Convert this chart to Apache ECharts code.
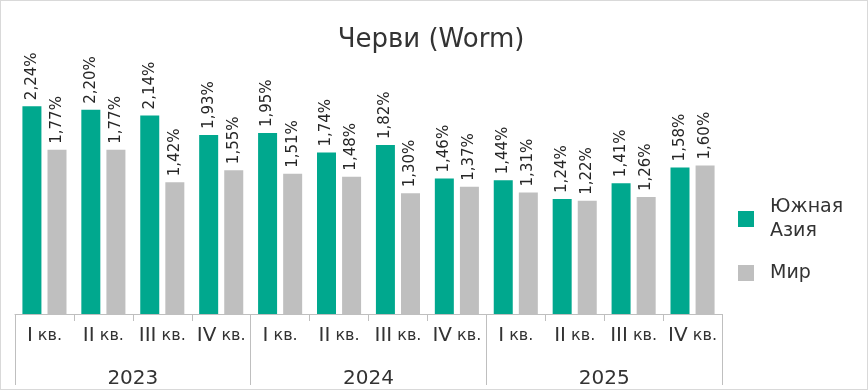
<!DOCTYPE html>
<html>
<head>
<meta charset="utf-8">
<script src="https://cdn.jsdelivr.net/npm/echarts@6/dist/echarts.min.js"></script>
<style>
html,body{margin:0;padding:0;background:#fff;}
#wrap{position:relative;width:868px;height:390px;}
#chart{width:868px;height:390px;}
#frame{position:absolute;left:0;top:0;width:868px;height:390px;box-sizing:border-box;border:1px solid #d9d9d9;pointer-events:none;}
</style>
</head>
<body>
<div id="wrap"><div id="chart"></div><div id="frame"></div></div>
<script>
const title = 'Черви (Worm)';
const quarters = ['I кв.', 'II кв.', 'III кв.', 'IV кв.', 'I кв.', 'II кв.', 'III кв.', 'IV кв.', 'I кв.', 'II кв.', 'III кв.', 'IV кв.'];
const years = ['2023', '2024', '2025'];
const seriesNames = ['Южная Азия', 'Мир'];
const southAsia = [2.24, 2.20, 2.14, 1.93, 1.95, 1.74, 1.82, 1.46, 1.44, 1.24, 1.41, 1.58];
const world = [1.77, 1.77, 1.42, 1.55, 1.51, 1.48, 1.30, 1.37, 1.31, 1.22, 1.26, 1.60];

const FONT = 'DejaVu Sans';
const chart = echarts.init(document.getElementById('chart'), null, {renderer: 'canvas'});
const fmt = v => v.toFixed(2).replace('.', ',') + '%';
const labelCfg = {
  show: true, position: 'top', rotate: 90, align: 'left', verticalAlign: 'middle',
  distance: 6, fontFamily: FONT, fontSize: 15, color: '#262626',
  formatter: p => fmt(p.value)
};
chart.setOption({
  animation: false,
  title: {
    text: title, left: 426, textAlign: 'center', top: 22,
    textStyle: {fontFamily: FONT, fontSize: 26, fontWeight: 'normal', color: '#333333'}
  },
  legend: {
    orient: 'vertical', left: 738, top: 195, padding: 0, itemWidth: 16, itemHeight: 16, itemGap: 18,
    icon: 'rect', data: seriesNames,
    formatter: n => n.replace(' ', '\n'),
    textStyle: {fontFamily: FONT, fontSize: 19, color: '#333333', lineHeight: 24, padding: [0, 0, 0, 11]}
  },
  grid: {left: 15, right: 146, top: 82, bottom: 76},
  xAxis: [
    {
      type: 'category', data: quarters, position: 'bottom',
      axisLine: {show: true, lineStyle: {color: '#bfbfbf', width: 1}},
      axisTick: {show: true, interval: 0, length: 7, lineStyle: {color: '#bfbfbf'}},
      axisLabel: {
        interval: 0, margin: 12, color: '#333333', fontFamily: FONT,
        formatter: v => { const parts = v.split(' '); return '{r|' + parts[0] + '}{k| ' + parts[1] + '}'; },
        rich: {
          r: {fontFamily: FONT, fontSize: 20, color: '#333333'},
          k: {fontFamily: FONT, fontSize: 16, color: '#333333'}
        }
      }
    },
    {
      type: 'category', data: years, position: 'bottom', offset: 0,
      axisLine: {show: false},
      axisTick: {show: true, interval: 0, length: 71, lineStyle: {color: '#bfbfbf'}},
      axisLabel: {interval: 0, margin: 55, fontFamily: FONT, fontSize: 20, color: '#333333'}
    }
  ],
  yAxis: {type: 'value', min: 0, max: 2.5, show: false, splitLine: {show: false}},
  series: [
    {name: seriesNames[0], type: 'bar', xAxisIndex: 0, data: southAsia, barWidth: 19, barGap: '32%',
     itemStyle: {color: '#00a88e'}, label: labelCfg},
    {name: seriesNames[1], type: 'bar', xAxisIndex: 0, data: world, barWidth: 19, barGap: '32%',
     itemStyle: {color: '#bfbfbf'}, label: labelCfg}
  ]
});
</script>
</body>
</html>
